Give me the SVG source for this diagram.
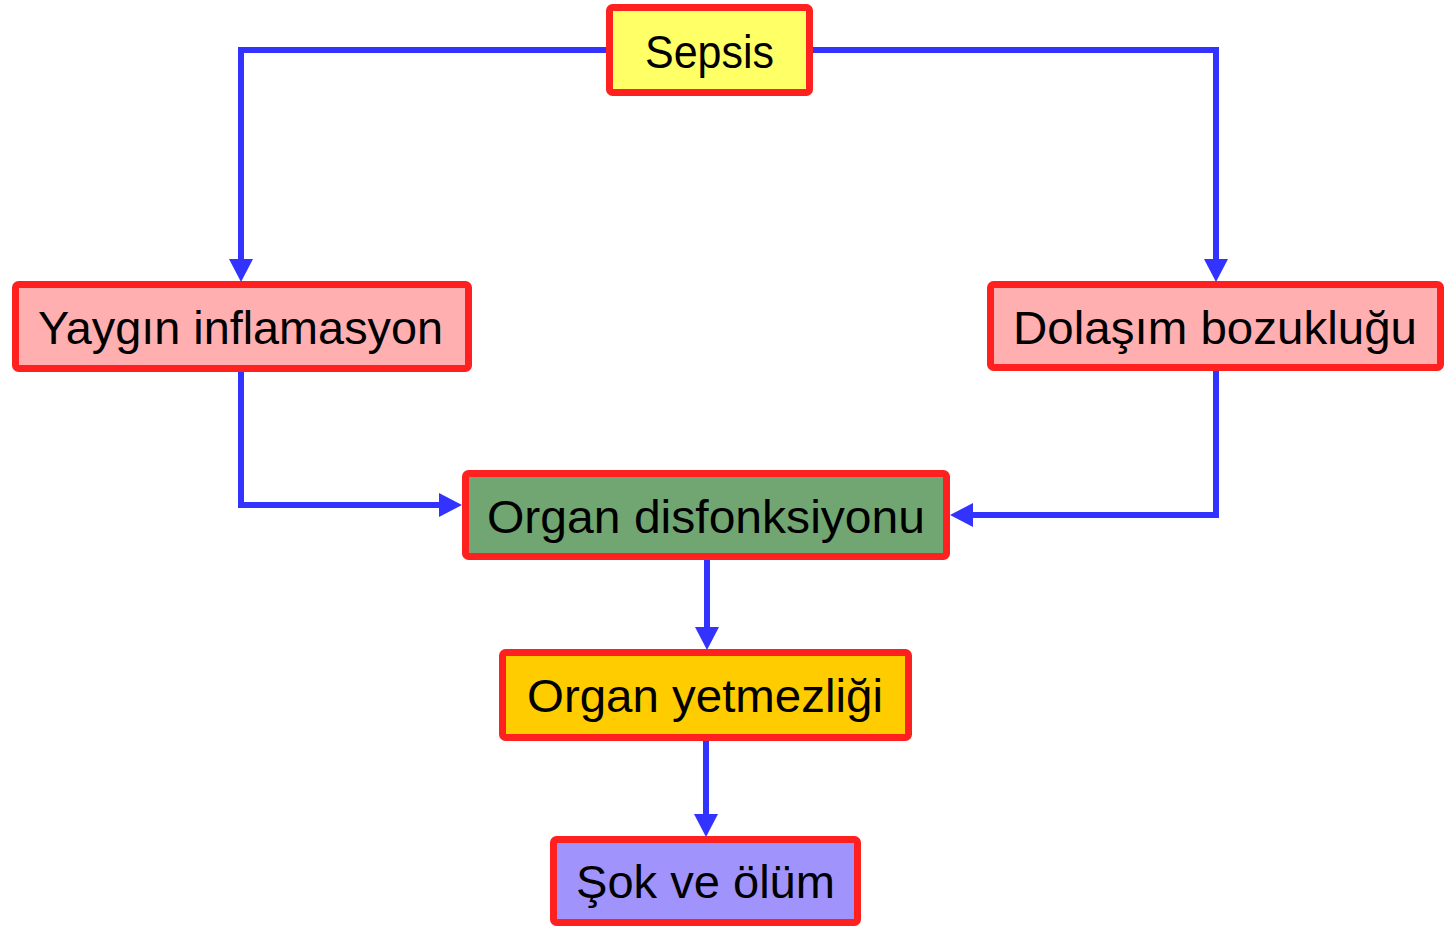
<svg xmlns="http://www.w3.org/2000/svg" width="1445" height="927" viewBox="0 0 1445 927">
<defs>
<style>
.box{stroke:#FF2020;stroke-width:7;stroke-linejoin:round}
.lbl{font-family:"Liberation Sans","Noto Sans",Arial,sans-serif;font-size:46px;fill:#000}
.con{fill:none;stroke:#3333FF;stroke-width:6;stroke-linejoin:miter}
</style>
<marker id="arr" markerUnits="userSpaceOnUse" markerWidth="24" markerHeight="24" refX="3" refY="12" orient="auto" viewBox="0 0 24 24">
<path d="M0,0 L23,12 L0,24 z" fill="#3333FF"/>
</marker>
</defs>
<rect width="1445" height="927" fill="#FFFFFF"/>
<g id="sepsis"><rect class="box" x="609.5" y="7.5" width="200" height="85" rx="3" fill="#FFFF66"/><text class="lbl" x="645" y="68" textLength="129" lengthAdjust="spacingAndGlyphs">Sepsis</text></g>
<g id="yaygin"><rect class="box" x="15.5" y="284.5" width="453" height="84" rx="3" fill="#FFAFAF"/><text class="lbl" x="38" y="344" textLength="405" lengthAdjust="spacingAndGlyphs">Yaygın inflamasyon</text></g>
<g id="dolasim"><rect class="box" x="990.5" y="284.5" width="450" height="83" rx="3" fill="#FFAFAF"/><text class="lbl" x="1013" y="344" textLength="404" lengthAdjust="spacingAndGlyphs">Dolaşım bozukluğu</text></g>
<g id="disfonksiyon"><rect class="box" x="465.5" y="473.5" width="481" height="83" rx="3" fill="#71A673"/><text class="lbl" x="487" y="533" textLength="438" lengthAdjust="spacingAndGlyphs">Organ disfonksiyonu</text></g>
<g id="yetmezlik"><rect class="box" x="502.5" y="652.5" width="406" height="85" rx="3" fill="#FFCC00"/><text class="lbl" x="527" y="712" textLength="356" lengthAdjust="spacingAndGlyphs">Organ yetmezliği</text></g>
<g id="sok"><rect class="box" x="553.5" y="839.5" width="304" height="83" rx="3" fill="#A094FC"/><text class="lbl" x="576" y="898" textLength="259" lengthAdjust="spacingAndGlyphs">Şok ve ölüm</text></g>
<g id="connectors">
<path class="con" d="M606,50 H241 V262" marker-end="url(#arr)"/>
<path class="con" d="M813,50 H1216 V262" marker-end="url(#arr)"/>
<path class="con" d="M241,372 V505 H442" marker-end="url(#arr)"/>
<path class="con" d="M1216,371 V515 H970" marker-end="url(#arr)"/>
<path class="con" d="M707,560 V630" marker-end="url(#arr)"/>
<path class="con" d="M706,741 V817" marker-end="url(#arr)"/>
</g>
</svg>
